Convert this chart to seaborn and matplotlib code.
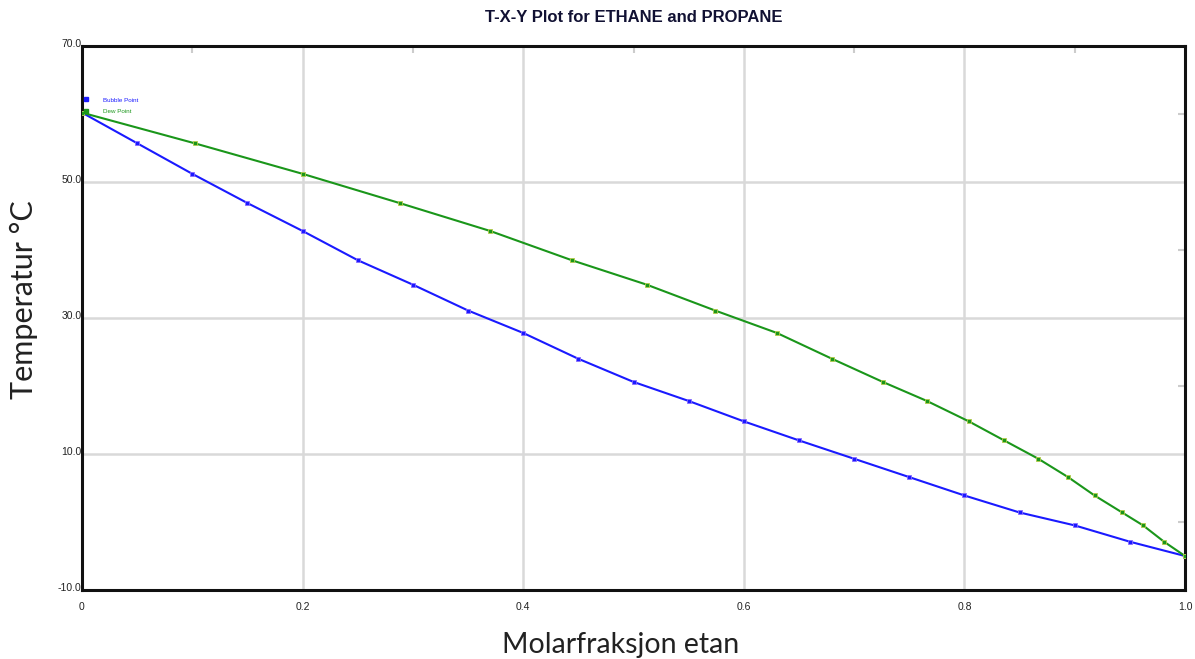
import numpy as np
import pandas as pd
import matplotlib
matplotlib.use("Agg")
import matplotlib.pyplot as plt
from matplotlib.lines import Line2D
from matplotlib.ticker import FixedLocator
from matplotlib.transforms import ScaledTranslation
import seaborn as sns

# ---- data ----
temperature = [60.2, 55.7, 51.2, 46.9, 42.8, 38.5, 34.9, 31.1, 27.8, 24.0, 20.6,
               17.8, 14.8, 12.0, 9.3, 6.6, 3.9, 1.4, -0.5, -2.9, -5.0]
x_liquid = [0.0, 0.05, 0.10, 0.15, 0.20, 0.25, 0.30, 0.35, 0.40, 0.45, 0.50,
            0.55, 0.60, 0.65, 0.70, 0.75, 0.80, 0.85, 0.90, 0.95, 1.0]
y_vapor = [0.0, 0.102, 0.200, 0.288, 0.370, 0.444, 0.512, 0.574, 0.630, 0.680, 0.726,
           0.766, 0.804, 0.836, 0.867, 0.894, 0.918, 0.943, 0.962, 0.981, 1.0]
series_names = ["Bubble Point", "Dew Point"]
x_ticks = [0.0, 0.2, 0.4, 0.6, 0.8, 1.0]
x_tick_labels = ["0", "0.2", "0.4", "0.6", "0.8", "1.0"]
y_ticks = [-10, 10, 30, 50, 70]
y_tick_labels = ["-10.0", "10.0", "30.0", "50.0", "70.0"]
title = "T-X-Y Plot for ETHANE and PROPANE"
x_label = "Molarfraksjon etan"
y_label = "Temperatur °C"

BLUE = "#1a1aff"
GREEN = "#1a961a"

sns.set_style("white")
plt.rcParams["font.family"] = ["Liberation Sans", "DejaVu Sans"]

W, H = 1195, 659
fig = plt.figure(figsize=(W / 100, H / 100), dpi=100)
L, R, T, B = 82, 1185, 46, 590
ax = fig.add_axes([L / W, 1 - B / H, (R - L) / W, (B - T) / H])

df_b = pd.DataFrame({"x": x_liquid, "T": temperature})
df_d = pd.DataFrame({"x": y_vapor, "T": temperature})
sns.lineplot(data=df_b, x="x", y="T", ax=ax, color=BLUE, lw=1.5, marker="s",
             markersize=3.2, markeredgewidth=0.6, markeredgecolor="#8a6cff",
             sort=False, zorder=3)
sns.lineplot(data=df_d, x="x", y="T", ax=ax, color=GREEN, lw=1.5, marker="s",
             markersize=3.2, markeredgewidth=0.6, markeredgecolor="#b5cc4a",
             sort=False, zorder=3)

ax.set_xlim(0, 1)
ax.set_ylim(-10, 70)

ax.xaxis.set_major_locator(FixedLocator(x_ticks))
ax.set_xticklabels(x_tick_labels)
ax.yaxis.set_major_locator(FixedLocator(y_ticks))
ax.set_yticklabels(y_tick_labels)
ax.xaxis.set_minor_locator(FixedLocator([0.1, 0.3, 0.5, 0.7, 0.9]))
ax.yaxis.set_minor_locator(FixedLocator([0, 20, 40, 60]))

ax.grid(True, which="major", color="#d9d9d9", lw=1.8, zorder=0)
ax.set_axisbelow(True)

ax.tick_params(which="major", length=0, labelsize=7.5, colors="#222222")
ax.tick_params(axis="x", which="major", pad=9)
ax.tick_params(axis="y", which="major", pad=0.5)
ax.tick_params(which="minor", direction="in", length=5, width=1.5,
               color="#cccccc", top=True, right=True)

off = ScaledTranslation(0, 3 / 100, fig.dpi_scale_trans)
for lab in ax.get_yticklabels():
    lab.set_transform(lab.get_transform() + off)

for sp in ax.spines.values():
    sp.set_color("#111111")
    sp.set_linewidth(2.2)
    sp.set_visible(True)

# legend
handles = [Line2D([], [], ls="none", marker="s", color=BLUE, markersize=3),
           Line2D([], [], ls="none", marker="s", color=GREEN, markersize=3)]
ax.legend(handles, series_names, loc="upper left",
          bbox_to_anchor=(0.0, 1 - (96 - T) / (B - T)), frameon=False,
          fontsize=4.5, labelcolor=[BLUE, GREEN], handlelength=1.0,
          handletextpad=2.2, borderpad=0.0, borderaxespad=0.2, labelspacing=1.0)

ax.set_xlabel(x_label, fontsize=20.5, family=["Lato", "DejaVu Sans"], color="#222222")
ax.set_ylabel(y_label, fontsize=22, family=["Lato", "DejaVu Sans"], color="#222222")
ax.xaxis.set_label_coords((621 - L) / (R - L), (B - 645) / (B - T))
ax.xaxis.label.set_va("center")
ax.yaxis.set_label_coords((24 - L) / (R - L), (B - 300) / (B - T))
ax.yaxis.label.set_va("center")

fig.text((L + R) / 2 / W, 1 - 17 / H, title, ha="center", va="center",
         fontsize=12, fontweight="bold", color="#111133")

fig.savefig("out.png", dpi=100, facecolor="white")
